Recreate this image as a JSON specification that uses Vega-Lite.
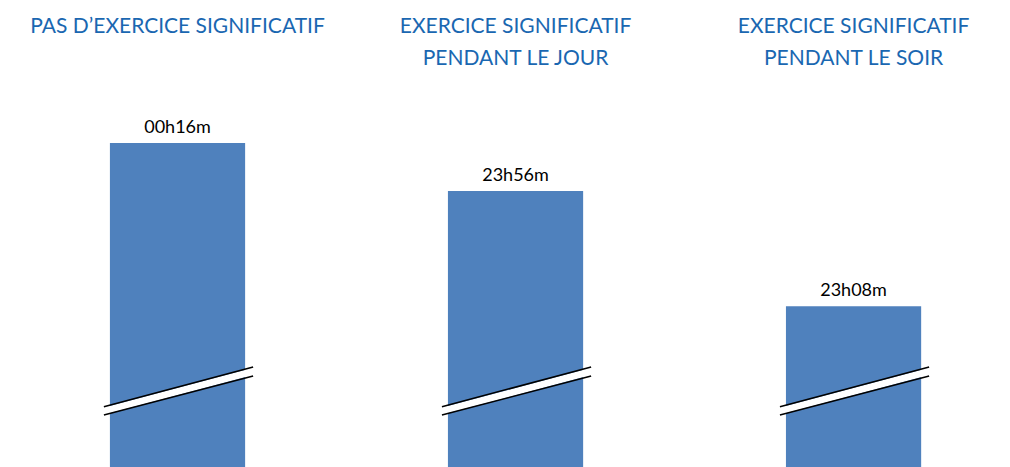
{
  "$schema": "https://vega.github.io/schema/vega-lite/v6.json",
  "width": 1010,
  "height": 467,
  "autosize": {"type": "fit", "contains": "padding"},
  "padding": 0,
  "background": "white",
  "config": {"view": {"stroke": null}},
  "data": {
    "values": [
      {"cat": "PAS D’EXERCICE SIGNIFICATIF", "minutes": 1456, "label": "00h16m"},
      {"cat": "EXERCICE SIGNIFICATIF\nPENDANT LE JOUR", "minutes": 1436, "label": "23h56m"},
      {"cat": "EXERCICE SIGNIFICATIF\nPENDANT LE SOIR", "minutes": 1388, "label": "23h08m"}
    ]
  },
  "encoding": {
    "x": {
      "field": "cat",
      "type": "nominal",
      "sort": null,
      "scale": {"paddingInner": 0.6, "paddingOuter": 0.294, "align": 0.553},
      "axis": {
        "orient": "top",
        "title": null,
        "domain": false,
        "ticks": false,
        "tickSize": 0,
        "labelAngle": 0,
        "labelAlign": "center",
        "labelBaseline": "top",
        "labelPadding": -15,
        "labelFont": "Lato",
        "labelFontSize": 21,
        "labelColor": "#1a67b1",
        "labelLineHeight": 32,
        "labelBound": false,
        "labelFlush": false,
        "labelOverlap": false,
        "labelLimit": 0,
        "labelExpr": "split(datum.label, '\\n')"
      }
    }
  },
  "layer": [
    {
      "mark": {"type": "bar", "color": "#4F81BD", "clip": true},
      "encoding": {
        "y": {
          "field": "minutes",
          "type": "quantitative",
          "scale": {"domain": [1321, 1515.6], "zero": false, "nice": false},
          "axis": null
        }
      }
    },
    {
      "mark": {"type": "text", "baseline": "alphabetic", "dy": -10, "font": "Lato", "fontSize": 18, "color": "#000000"},
      "encoding": {
        "y": {"field": "minutes", "type": "quantitative"},
        "text": {"field": "label"}
      }
    },
    {
      "mark": {"type": "rule", "color": "white", "strokeWidth": 7, "xOffset": -6, "x2Offset": 8},
      "encoding": {
        "x": {"field": "cat", "type": "nominal", "sort": null, "bandPosition": 0},
        "x2": {"field": "cat", "bandPosition": 1},
        "y": {"datum": 1344.3},
        "y2": {"datum": 1360.8}
      }
    },
    {
      "mark": {"type": "rule", "color": "black", "strokeWidth": 1.5, "xOffset": -6, "x2Offset": 8},
      "encoding": {
        "x": {"field": "cat", "type": "nominal", "sort": null, "bandPosition": 0},
        "x2": {"field": "cat", "bandPosition": 1},
        "y": {"datum": 1346.1},
        "y2": {"datum": 1362.7}
      }
    },
    {
      "mark": {"type": "rule", "color": "black", "strokeWidth": 1.5, "xOffset": -6, "x2Offset": 8},
      "encoding": {
        "x": {"field": "cat", "type": "nominal", "sort": null, "bandPosition": 0},
        "x2": {"field": "cat", "bandPosition": 1},
        "y": {"datum": 1342.7},
        "y2": {"datum": 1358.9}
      }
    }
  ]
}
